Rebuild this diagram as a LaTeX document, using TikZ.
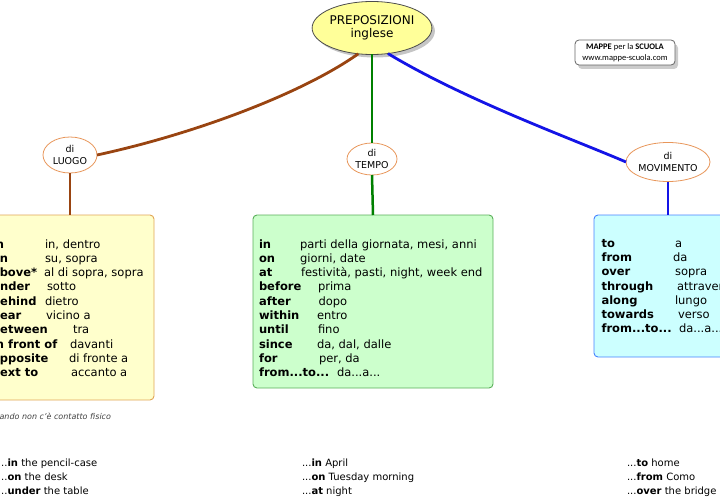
\documentclass[tikz,border=0pt]{standalone}
\usepackage{fontspec}
\setmainfont{DejaVu Sans}
\newfontfamily\logofont{Carlito}
\usetikzlibrary{shapes.geometric,shadows}

\definecolor{rootyellow}{RGB}{255,255,153}
\definecolor{ellorange}{RGB}{232,150,90}
\definecolor{luogobrown}{RGB}{153,68,17}
\definecolor{tempogreen}{RGB}{0,128,0}
\definecolor{motoblue}{RGB}{20,20,230}
\definecolor{luogofill}{RGB}{255,255,204}
\definecolor{luogoline}{RGB}{225,165,85}
\definecolor{tempofill}{RGB}{204,255,204}
\definecolor{tempoline}{RGB}{90,175,90}
\definecolor{motofill}{RGB}{204,255,255}
\definecolor{motoline}{RGB}{70,130,255}

\begin{document}
\begin{tikzpicture}[
  x=1pt, y=-1pt,
  every node/.style={inner sep=0pt, outer sep=0pt},
  rootnode/.style={ellipse, draw=black!70, fill=rootyellow, line width=0.8pt,
    minimum width=108pt, minimum height=53pt, align=center,
    font=\fontsize{12}{12.5}\selectfont,
    drop shadow={shadow xshift=3pt, shadow yshift=-3pt, fill=black!45}},
  subnode/.style={ellipse, draw=ellorange, fill=white, line width=0.8pt,
    align=center, font=\fontsize{9.5}{12}\selectfont},
  listbox/.style={rectangle, rounded corners=4pt, line width=0.9pt},
  kwtext/.style={anchor=base west, font=\fontsize{11.5}{13}\selectfont\bfseries},
  trtext/.style={anchor=base west, font=\fontsize{11.5}{13}\selectfont},
  extext/.style={anchor=base west, font=\fontsize{10}{12}\selectfont},
  link/.style={line width=2.8pt}
]
  \useasboundingbox (0,0) rectangle (720,500);
  \clip (0,0) rectangle (720,500);

  % main concept and branches
  \node[rootnode] (root) at (372,28) {PREPOSIZIONI\\inglese};
  \node[subnode, minimum width=54pt, minimum height=36pt] (luogo) at (70,155) {di\\LUOGO};
  \node[subnode, minimum width=50pt, minimum height=32pt] (tempo) at (372,159) {di\\TEMPO};
  \node[subnode, minimum width=74pt, minimum height=39pt] (movimento) at (668,162) {di\\MOVIMENTO};

  % logo
  \node[rectangle, rounded corners=4pt, draw=black!60, fill=white, line width=0.8pt,
    minimum width=100pt, minimum height=25pt, align=center,
    font=\logofont\fontsize{8.5}{10.5}\selectfont,
    drop shadow={shadow xshift=3pt, shadow yshift=-4pt, fill=black!40}] (logo) at (625,52.5)
    {\textbf{MAPPE} per la \textbf{SCUOLA}\\www.mappe-scuola.com};

  % boxes
  \node[listbox, draw=luogoline, fill=luogofill, minimum width=168pt, minimum height=185pt] (luogobox) at (70,307.5) {};
  \node[listbox, draw=tempoline, fill=tempofill, minimum width=240pt, minimum height=173pt] (tempobox) at (373,301.5) {};
  \node[listbox, draw=motoline, fill=motofill, minimum width=148pt, minimum height=142pt] (motobox) at (668,286) {};

  % connectors
  \draw[link, luogobrown] (root.-118) .. controls (300,95) and (190,135) .. (luogo.east);
  \draw[link, luogobrown] (luogo.south) -- (luogobox.north);
  \draw[link, tempogreen, line width=2.5pt] (root.south) -- (tempo.north);
  \draw[link, tempogreen, line width=2.5pt] (tempo.south) -- (tempobox.north);
  \draw[link, motoblue] (root.-58) .. controls (465,100) and (570,138) .. (movimento.west);
  \draw[link, motoblue] (movimento.south) -- (motobox.north);

  % di luogo
  \foreach \kw/\tr/\tx [count=\i] in {in/{in, dentro}/45, on/{su, sopra}/45,
      above*/{al di sopra, sopra}/44, under/sotto/47, behind/dietro/45,
      near/{vicino a}/46, between/tra/73, {in front of}/davanti/70,
      opposite/{di fronte a}/69, {next to}/{accanto a}/71}
  {
    \node[kwtext] (lk\i) at (-8, 233.7+14.3*\i) {\kw};
    \node[trtext] (lt\i) at (\tx, 233.7+14.3*\i) {\tr};
  }
  \node[anchor=base east, font=\fontsize{8}{10}\selectfont\itshape, text=black!75] (note) at (111,419)
    {*quando non c'è contatto fisico};

  % di tempo
  \foreach \kw/\tr/\tx [count=\i] in {in/{parti della giornata, mesi, anni}/300,
      on/{giorni, date}/300, at/{festività, pasti, night, week end}/301,
      before/prima/318, after/dopo/318.5, within/entro/317, until/fino/318,
      since/{da, dal, dalle}/317, for/{per, da}/319, {from...to...}/{da...a...}/337}
  {
    \node[kwtext] (tk\i) at (259, 233.7+14.3*\i) {\kw};
    \node[trtext] (tt\i) at (\tx, 233.7+14.3*\i) {\tr};
  }

  % di movimento
  \foreach \kw/\tr/\tx [count=\i] in {to/a/675, from/da/673, over/sopra/675,
      through/attraverso/677, along/lungo/675, towards/verso/678,
      {from...to...}/{da...a...}/679}
  {
    \node[kwtext] (mk\i) at (601.5, 233.3+14.2*\i) {\kw};
    \node[trtext] (mt\i) at (\tx, 233.3+14.2*\i) {\tr};
  }

  % examples
  \foreach \exl/\ext/\exm [count=\i] in {
      {...\textbf{in} the pencil-case}/{...\textbf{in} April}/{...\textbf{to} home},
      {...\textbf{on} the desk}/{...\textbf{on} Tuesday morning}/{...\textbf{from} Como},
      {...\textbf{under} the table}/{...\textbf{at} night}/{...\textbf{over} the bridge}}
  {
    \node[extext] (el\i) at (-2, 452.5+14*\i) {\exl};
    \node[extext] (et\i) at (302, 452.5+14*\i) {\ext};
    \node[extext] (em\i) at (627, 452.5+14*\i) {\exm};
  }
\end{tikzpicture}
\end{document}
